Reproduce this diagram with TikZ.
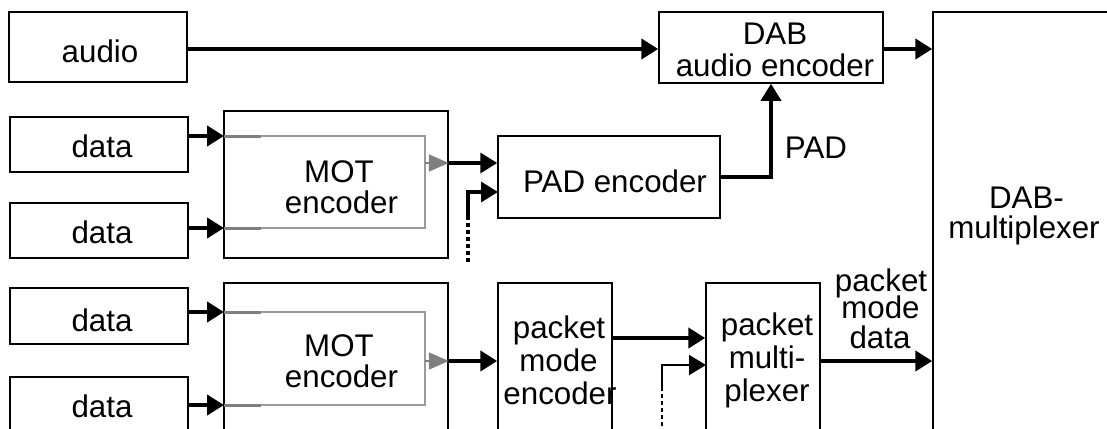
\documentclass[tikz,border=0pt]{standalone}
\usepackage{fontspec}
\setmainfont{Liberation Sans}
\usetikzlibrary{arrows.meta}
\definecolor{loopgray}{HTML}{9A9A9A}
\definecolor{darkloop}{HTML}{7F7F7F}
\begin{document}
\begin{tikzpicture}[x=1pt,y=-1pt,
  box/.style={draw=black, line width=1.5pt, inner sep=0pt},
  lbl/.style={font=\fontsize{31.3}{32}\selectfont, inner sep=0pt, anchor=base},
  tip/.style={-{Triangle[length=17pt,width=20pt]}},
  thickarrow/.style={tip, line width=4.5pt},
  medarrow/.style={tip, line width=3.5pt},
  thinarrow/.style={tip, line width=2pt},
  loopline/.style={draw=loopgray, line width=2pt},
  loopdark/.style={draw=darkloop, line width=3pt},
  grayarrow/.style={draw=darkloop, line width=2pt, -{Triangle[length=20pt,width=17pt]}, darkloop},
  dashthick/.style={line width=4pt, dash pattern=on 4pt off 3pt},
  dashthin/.style={line width=2.5pt, dash pattern=on 4pt off 3pt}
]
\useasboundingbox (0,0) rectangle (1107,428);
\clip (0,0) rectangle (1107,428);
% boxes
\node[box, minimum width=178pt, minimum height=70pt] (audio) at (98,47) {};
\node[box, minimum width=178pt, minimum height=55pt] (d1) at (99,144.5) {};
\node[box, minimum width=178pt, minimum height=55pt] (d2) at (99,230.5) {};
\node[box, minimum width=178pt, minimum height=56pt] (d3) at (99,316) {};
\node[box, minimum width=178pt, minimum height=63pt] (d4) at (99,408.5) {};
\node[box, minimum width=224pt, minimum height=147pt] (mot1) at (336,184.5) {};
\node[box, minimum width=224pt, minimum height=157pt] (mot2) at (336,361.5) {};
\node[box, minimum width=224pt, minimum height=71pt] (dab) at (771,47.5) {};
\node[box, minimum width=222pt, minimum height=82pt] (pad) at (609,177) {};
\node[box, minimum width=114pt, minimum height=157pt] (pme) at (555,361.5) {};
\node[box, minimum width=114pt, minimum height=157pt] (pmx) at (763,361.5) {};
\node[box, minimum width=197pt, minimum height=428pt] (mux) at (1031.5,226) {};
% labels
\node[lbl] (taudio) at (100,63) {audio};
\node[lbl] (td1) at (102,157) {data};
\node[lbl] (td2) at (102,243) {data};
\node[lbl] (td3) at (102,331) {data};
\node[lbl] (td4) at (102,417) {data};
\node[lbl] (tm1a) at (339,182) {MOT};
\node[lbl] (tm1b) at (341.5,213) {encoder};
\node[lbl] (tm2a) at (339,356) {MOT};
\node[lbl] (tm2b) at (341.5,387) {encoder};
\node[lbl] (tdab1) at (775,45) {DAB};
\node[lbl] (tdab2) at (775,77) {audio encoder};
\node[lbl] (tpad) at (615,192) {PAD encoder};
\node[lbl] (tpadl) at (816,158) {PAD};
\node[lbl] (tmux1) at (1026.5,208) {DAB-};
\node[lbl] (tmux2) at (1024,238) {multiplexer};
\node[lbl] (tpme1) at (559,338) {packet};
\node[lbl] (tpme2) at (558.5,371) {mode};
\node[lbl] (tpme3) at (560,404) {encoder};
\node[lbl] (tpmx1) at (767,335) {packet};
\node[lbl] (tpmx2) at (767,368) {multi-};
\node[lbl] (tpmx3) at (767,401) {plexer};
\node[lbl] (tpmd1) at (881,291) {packet};
\node[lbl] (tpmd2) at (880.5,318) {mode};
\node[lbl] (tpmd3) at (880,348) {data};
% coordinates
\coordinate (ya) at (0,49);
\coordinate (m1a) at (224,136);
\coordinate (m1b) at (224,228);
\coordinate (m1ta) at (425,136);
\coordinate (m1tb) at (425,228);
\coordinate (m1r) at (425,163);
\coordinate (m2a) at (224,312);
\coordinate (m2b) at (224,405);
\coordinate (m2ta) at (425,312);
\coordinate (m2tb) at (425,405);
\coordinate (m2r) at (425,361);
\coordinate (s1) at (468,262);
\coordinate (s1k) at (468,218);
\coordinate (padin2) at (498,192);
\coordinate (s2) at (662,440);
\coordinate (s2k) at (662,390);
\coordinate (pmxin2) at (706,365);
\coordinate (ypm) at (0,338);
% connectors
\draw[thickarrow] (audio.east |- ya) -- (dab.west |- ya);
\draw[thickarrow] (dab.east |- ya) -- (mux.west |- ya);
\draw[thickarrow] (d1.east |- m1a) -- (m1a);
\draw[thickarrow] (d2.east |- m1b) -- (m1b);
\draw[thickarrow] (d3.east |- m2a) -- (m2a);
\draw[thickarrow] (d4.east |- m2b) -- (m2b);
\draw[loopline] (m1a) -- (m1ta) -- (m1tb) -- (m1b);
\draw[loopdark] (m1a) -- ++(37,0);
\draw[loopdark] (m1b) -- ++(37,0);
\draw[loopline] (m2a) -- (m2ta) -- (m2tb) -- (m2b);
\draw[loopdark] (m2a) -- ++(37,0);
\draw[loopdark] (m2b) -- ++(37,0);
\draw[grayarrow] (m1r) -- (mot1.east |- m1r);
\draw[grayarrow] (m2r) -- (mot2.east |- m2r);
\draw[medarrow] (mot1.east |- m1r) -- (pad.west |- m1r);
\draw[thickarrow] (mot2.east |- m2r) -- (pme.west |- m2r);
\draw[dashthick] (s1) -- (s1k);
\draw[medarrow] (s1k) |- (padin2);
\draw[medarrow] (pad.east) -| (dab.south);
\draw[thickarrow] (pme.east |- ypm) -- (pmx.west |- ypm);
\draw[dashthin] (s2) -- (s2k);
\draw[thinarrow] (s2k) |- (pmxin2);
\draw[thickarrow] (pmx.east |- m2r) -- (mux.west |- m2r);
\end{tikzpicture}
\end{document}
